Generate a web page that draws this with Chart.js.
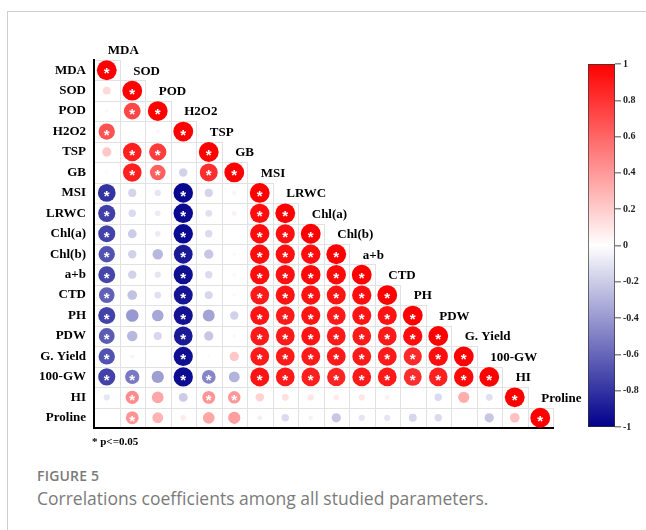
<!DOCTYPE html>
<html>
<head>
<meta charset="utf-8">
<script src="https://cdn.jsdelivr.net/npm/chart.js@4/dist/chart.umd.min.js"></script>
<style>
  html, body { margin: 0; padding: 0; background: #fff; }
  body { width: 646px; height: 530px; position: relative; overflow: hidden; }
  .frame-left { position: absolute; left: 7px; top: 11px; width: 1px; height: 519px; background: #cfcfcf; }
  .frame-top { position: absolute; left: 7px; top: 11px; width: 639px; height: 1px; background: #cfcfcf; }
  #main { position: absolute; left: 0; top: 0; }
  #bar { position: absolute; left: 560px; top: 0; }
  .note { position: absolute; left: 92px; top: 436px; font: bold 11px "Liberation Serif", "Times New Roman", serif; line-height: 11px; color: #000; white-space: nowrap; }
  .fig { position: absolute; left: 37px; top: 469px; font: 600 14px "Open Sans", sans-serif; line-height: 14px; color: #7b7b7b; letter-spacing: 0.2px; white-space: nowrap; }
  .cap { position: absolute; left: 37px; top: 490px; font: 400 17.5px "Open Sans", sans-serif; line-height: 17.5px; color: #7b7b7b; white-space: nowrap; }
</style>
</head>
<body>
<div class="frame-left"></div>
<div class="frame-top"></div>
<canvas id="main" width="646" height="460"></canvas>
<canvas id="bar" width="86" height="460"></canvas>
<div class="note">* p&lt;=0.05</div>
<div class="fig">FIGURE 5</div>
<div class="cap">Correlations coefficients among all studied parameters.</div>

<script>
// Variable names (rows top to bottom, columns left to right)
const variables = ['MDA', 'SOD', 'POD', 'H2O2', 'TSP', 'GB', 'MSI', 'LRWC', 'Chl(a)', 'Chl(b)',
  'a+b', 'CTD', 'PH', 'PDW', 'G. Yield', '100-GW', 'HI', 'Proline'];

// Lower-triangle correlation coefficients, one row per variable (diagonal included)
const corrRows = [
  [1],
  [0.15, 1],
  [0.03, 0.72, 1],
  [0.68, 0.02, 0.04, 1],
  [0.22, 0.88, 0.76, 0.0, 1],
  [0.02, 0.88, 0.62, -0.18, 0.82, 1],
  [-0.8, -0.17, -0.1, -0.97, -0.17, 0.05, 1],
  [-0.75, -0.14, -0.08, -0.96, -0.12, 0.06, 0.95, 1],
  [-0.74, -0.2, -0.08, -0.96, -0.14, 0.0, 0.95, 0.94, 1],
  [-0.68, -0.18, -0.28, -0.9, -0.22, 0.03, 0.95, 0.94, 0.95, 1],
  [-0.73, -0.18, -0.1, -0.94, -0.14, 0.03, 0.95, 0.94, 0.97, 0.96, 1],
  [-0.62, -0.24, -0.12, -0.92, -0.16, 0.03, 0.9, 0.93, 0.93, 0.92, 0.95, 1],
  [-0.74, -0.4, -0.34, -0.93, -0.36, -0.18, 0.92, 0.9, 0.92, 0.9, 0.92, 0.93, 1],
  [-0.64, -0.28, -0.16, -0.9, -0.22, -0.03, 0.9, 0.9, 0.92, 0.9, 0.9, 0.9, 0.95, 1],
  [-0.68, -0.04, -0.01, -0.94, -0.02, 0.22, 0.9, 0.9, 0.9, 0.9, 0.9, 0.9, 0.84, 0.95, 1],
  [-0.74, -0.52, -0.38, -0.95, -0.48, -0.3, 0.92, 0.9, 0.88, 0.86, 0.9, 0.9, 0.82, 0.88, 0.97, 1],
  [-0.1, 0.45, 0.35, -0.2, 0.42, 0.4, 0.18, 0.12, 0.1, 0.08, 0.1, 0.06, 0.02, -0.14, 0.32, -0.12, 1],
  [0.01, 0.42, 0.3, 0.08, 0.35, 0.38, -0.06, -0.14, -0.05, -0.22, -0.1, -0.1, -0.16, -0.14, 0.0, -0.22, 0.24, 1]
];

// Significance flags (1 = p <= 0.05), same layout as corrRows
const sigRows = [
  [1],
  [0, 1],
  [0, 1, 1],
  [1, 0, 0, 1],
  [0, 1, 1, 0, 1],
  [0, 1, 1, 0, 1, 1],
  [1, 0, 0, 1, 0, 0, 1],
  [1, 0, 0, 1, 0, 0, 1, 1],
  [1, 0, 0, 1, 0, 0, 1, 1, 1],
  [1, 0, 0, 1, 0, 0, 1, 1, 1, 1],
  [1, 0, 0, 1, 0, 0, 1, 1, 1, 1, 1],
  [1, 0, 0, 1, 0, 0, 1, 1, 1, 1, 1, 1],
  [1, 0, 0, 1, 0, 0, 1, 1, 1, 1, 1, 1, 1],
  [1, 0, 0, 1, 0, 0, 1, 1, 1, 1, 1, 1, 1, 1],
  [1, 0, 0, 1, 0, 0, 1, 1, 1, 1, 1, 1, 1, 1, 1],
  [1, 1, 0, 1, 1, 0, 1, 1, 1, 1, 1, 1, 1, 1, 1, 1],
  [0, 1, 0, 0, 1, 1, 0, 0, 0, 0, 0, 0, 0, 0, 0, 0, 1],
  [0, 1, 0, 0, 0, 0, 0, 0, 0, 0, 0, 0, 0, 0, 0, 0, 0, 1]
];

// Colour-bar tick values
const scaleTicks = [1, 0.8, 0.6, 0.4, 0.2, 0, -0.2, -0.4, -0.6, -0.8, -1];

const NEG = [0, 0, 139];
const MID = [255, 255, 255];
const POS = [255, 0, 0];

function corrColor(v) {
  const t = Math.min(1, Math.abs(v));
  const end = v < 0 ? NEG : POS;
  const c = MID.map((m, k) => Math.round(m + (end[k] - m) * t));
  return `rgb(${c[0]},${c[1]},${c[2]})`;
}

// Build bubble points from the matrix rows
const points = [];
corrRows.forEach((row, i) => {
  row.forEach((v, j) => {
    points.push({ x: j, y: i, v: v, sig: sigRows[i][j] });
  });
});

const n = variables.length;
const serif = '"Liberation Serif", "Times New Roman", serif';

const matrixPlugin = {
  id: 'matrixDecor',
  beforeDraw(chart) {
    const { ctx, scales: { x, y } } = chart;
    ctx.save();
    ctx.strokeStyle = '#e2e2e2';
    ctx.lineWidth = 1;
    for (let i = 0; i < n; i++) {
      for (let j = 0; j <= i; j++) {
        const x0 = Math.round(x.getPixelForValue(j - 0.5)) + 0.5;
        const x1 = Math.round(x.getPixelForValue(j + 0.5)) + 0.5;
        const y0 = Math.round(y.getPixelForValue(i - 0.5)) + 0.5;
        const y1 = Math.round(y.getPixelForValue(i + 0.5)) + 0.5;
        ctx.strokeRect(x0, y0, x1 - x0, y1 - y0);
      }
    }
    ctx.restore();
  },
  afterDraw(chart) {
    const { ctx, scales: { x, y } } = chart;
    ctx.save();
    // significance stars
    ctx.fillStyle = '#ffffff';
    ctx.font = 'bold 15px "Liberation Sans", Arial, sans-serif';
    ctx.textAlign = 'center';
    ctx.textBaseline = 'alphabetic';
    points.forEach(p => {
      if (!p.sig) return;
      ctx.fillText('*', x.getPixelForValue(p.x), y.getPixelForValue(p.y) + 8);
    });
    // column names along the diagonal
    ctx.fillStyle = '#000';
    ctx.font = 'bold 13px ' + serif;
    ctx.textAlign = 'left';
    ctx.textBaseline = 'middle';
    variables.forEach((name, j) => {
      ctx.fillText(name, x.getPixelForValue(j) + 1, y.getPixelForValue(j - 1) + 1);
    });
    ctx.restore();
  }
};

const matrixChart = new Chart(document.getElementById('main'), {
  type: 'bubble',
  data: {
    datasets: [{
      data: points,
      borderWidth: 0,
      radius: 0,
      hoverRadius: 0,
      backgroundColor: points.map(p => corrColor(p.v))
    }]
  },
  options: {
    responsive: false,
    animation: false,
    devicePixelRatio: 1,
    events: [],
    layout: { padding: { top: 60, right: 93, bottom: 32, left: 0 } },
    plugins: { legend: { display: false }, tooltip: { enabled: false } },
    scales: {
      x: {
        type: 'linear', min: -0.5, max: n - 0.5,
        ticks: { display: false },
        grid: { display: false, drawTicks: false },
        border: { display: true, color: '#000', width: 2 },
        afterFit: s => { s.height = 0; }
      },
      y: {
        type: 'linear', min: -0.5, max: n - 0.5, reverse: true,
        afterBuildTicks: s => { s.ticks = variables.map((_, i) => ({ value: i })); },
        ticks: {
          autoSkip: false,
          padding: 8,
          color: '#000',
          font: { family: serif, size: 13, weight: 'bold' },
          callback: v => variables[v]
        },
        grid: { display: false, drawTicks: false },
        border: { display: true, color: '#000', width: 2 },
        afterFit: s => { s.width = 94; }
      }
    }
  },
  plugins: [matrixPlugin]
});

// Circle area follows |r|: radius scales with the square root, sized to the cell height
(function sizeCircles() {
  const ys = matrixChart.scales.y;
  const cell = Math.abs(ys.getPixelForValue(1) - ys.getPixelForValue(0));
  points.forEach(p => { p.r = 0.485 * cell * Math.sqrt(Math.abs(p.v)); });
  matrixChart.update();
})();

// Colour bar
new Chart(document.getElementById('bar'), {
  type: 'bar',
  data: {
    labels: [''],
    datasets: [{
      data: [[-1, 1]],
      barPercentage: 1,
      categoryPercentage: 1,
      borderWidth: 1,
      borderColor: '#333',
      borderSkipped: false,
      backgroundColor: ctx => {
        const area = ctx.chart.chartArea;
        if (!area) return '#fff';
        const g = ctx.chart.ctx.createLinearGradient(0, area.bottom, 0, area.top);
        g.addColorStop(0, corrColor(-1));
        g.addColorStop(0.5, corrColor(0));
        g.addColorStop(1, corrColor(1));
        return g;
      }
    }]
  },
  options: {
    responsive: false,
    animation: false,
    devicePixelRatio: 1,
    events: [],
    layout: { padding: { top: 64, right: 0, bottom: 33, left: 28 } },
    plugins: { legend: { display: false }, tooltip: { enabled: false } },
    scales: {
      x: { display: false },
      y: {
        position: 'right', min: -1, max: 1,
        afterBuildTicks: s => { s.ticks = scaleTicks.map(v => ({ value: v })); },
        ticks: {
          padding: 2,
          color: '#222',
          font: { family: serif, size: 10, weight: 'bold' },
          callback: v => String(Math.round(v * 10) / 10)
        },
        grid: { drawOnChartArea: false, drawTicks: true, tickLength: 6, color: '#888', lineWidth: 1.5 },
        border: { display: false },
        afterFit: s => { s.width = 31; }
      }
    }
  }
});
</script>
</body>
</html>
